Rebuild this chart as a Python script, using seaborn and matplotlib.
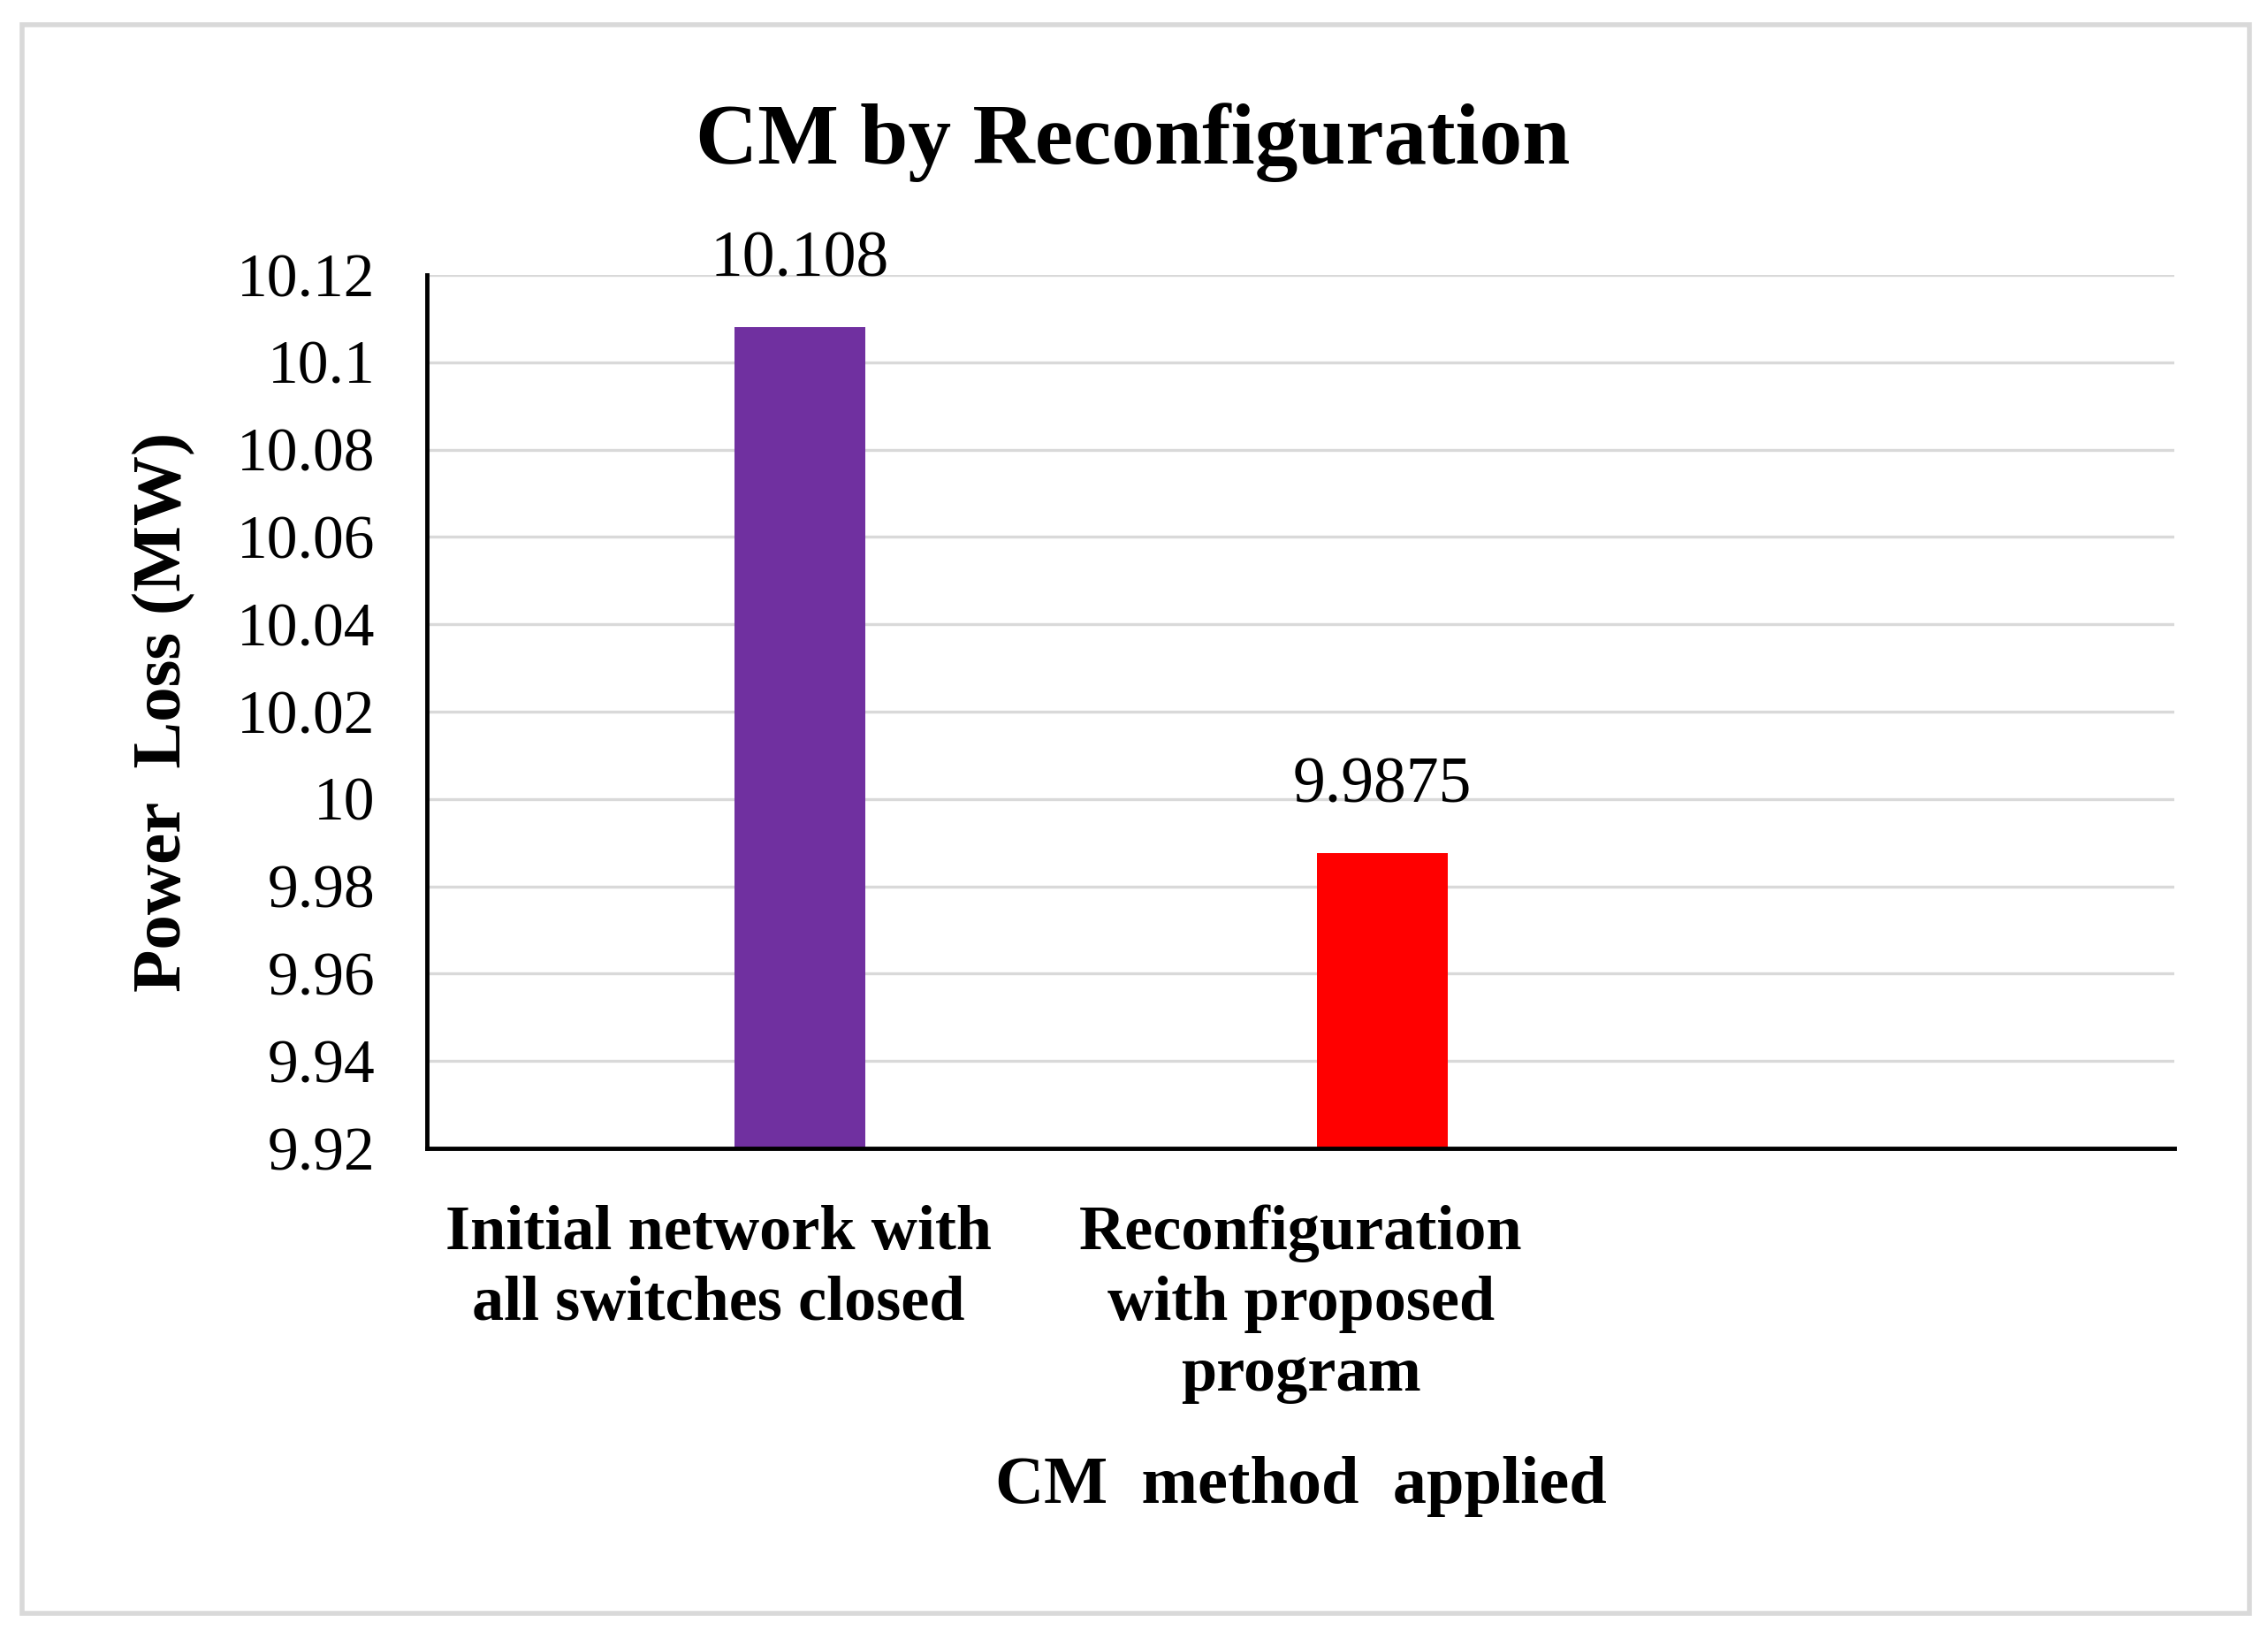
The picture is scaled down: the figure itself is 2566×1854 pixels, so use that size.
import matplotlib
matplotlib.use("Agg")
import matplotlib.pyplot as plt
import seaborn as sns
import pandas as pd
import numpy as np
from matplotlib.patches import Rectangle

categories = ["Initial network with\nall switches closed",
              "Reconfiguration\nwith proposed\nprogram",
              " "]
values = [10.108, 9.9875]
value_labels = ["10.108", "9.9875"]
bar_colors = ["#7030A0", "#FF0000"]
yticks = [9.92, 9.94, 9.96, 9.98, 10.0, 10.02, 10.04, 10.06, 10.08, 10.1, 10.12]
ytick_labels = ["9.92", "9.94", "9.96", "9.98", "10", "10.02", "10.04",
                "10.06", "10.08", "10.1", "10.12"]
title = "CM by Reconfiguration"
xlabel = "CM  method  applied"
ylabel = "Power  Loss (MW)"

sns.set_theme(style="white")
plt.rcParams['font.family'] = ['Liberation Serif', 'DejaVu Serif']
plt.rcParams['text.color'] = 'black'
plt.rcParams['axes.labelcolor'] = 'black'
plt.rcParams['xtick.color'] = 'black'
plt.rcParams['ytick.color'] = 'black'

df = pd.DataFrame({
    "category": categories[:2] * 2,
    "series": ["pad"] * 2 + ["loss"] * 2,
    "value": [np.nan, np.nan] + values,
})

fig = plt.figure(figsize=(25.66, 18.54), dpi=100)
ax = fig.add_axes([0.1883, 0.2994, 0.9587 - 0.1883, 0.8323 - 0.2994])

sns.barplot(data=df, x="category", y="value", hue="series",
            order=categories, hue_order=["pad", "loss"],
            width=0.56, gap=0.2, dodge=True, legend=False, ax=ax,
            errorbar=None, linewidth=0)

cont = ax.containers[-1]
for i, p in enumerate(cont.patches):
    if i < len(bar_colors):
        p.set_facecolor(bar_colors[i])
        p.set_edgecolor("none")
ax.bar_label(cont, labels=value_labels + [""] * (len(cont.patches) - 2),
             padding=30, fontsize=53, color="black")

ax.set_ylim(9.92, 10.12)
ax.set_xlim(-0.5, 2.5)
ax.set_yticks(yticks)
ax.set_yticklabels(ytick_labels, fontsize=50)
ax.set_xticks(range(len(categories)))
ax.set_xticklabels(categories, fontsize=52, fontweight="bold", linespacing=1.3,
                   va="top")
ax.tick_params(axis="y", length=0, pad=42)
ax.tick_params(axis="x", length=0, pad=46)
ax.yaxis.grid(True, color="#d9d9d9", linewidth=2.4)
ax.set_axisbelow(True)
for s in ["top", "right"]:
    ax.spines[s].set_visible(False)
for s in ["left", "bottom"]:
    ax.spines[s].set_color("black")
    ax.spines[s].set_linewidth(3.5)

ax.set_xlabel(xlabel, fontsize=55, fontweight="bold", labelpad=42)
ax.set_ylabel(ylabel, fontsize=57, fontweight="bold", labelpad=34)

fig.text(0.4994, 0.913, title, fontsize=70, fontweight="bold",
         ha="center", va="center")

fig.patches.append(Rectangle((25 / 2566, 1 - 1825 / 1854),
                             (2545 - 25) / 2566, (1825 - 28) / 1854,
                             transform=fig.transFigure, fill=False,
                             edgecolor="#d9d9d9", linewidth=4))

fig.savefig("out.png", dpi=100, facecolor="white")
